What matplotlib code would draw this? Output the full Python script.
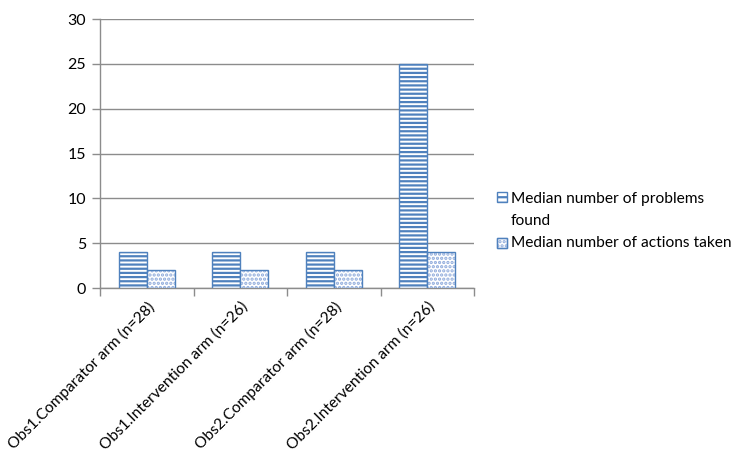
import matplotlib
matplotlib.use("Agg")
import matplotlib.pyplot as plt
import numpy as np
from matplotlib.patches import Rectangle

categories = ["Obs1.Comparator arm (n=28)", "Obs1.Intervention arm (n=26)",
              "Obs2.Comparator arm (n=28)", "Obs2.Intervention arm (n=26)"]
problems = [4, 4, 4, 25]
actions = [2, 2, 2, 4]
series_names = ["Median number of problems\nfound", "Median number of actions taken"]

plt.rcParams['font.family'] = ['Lato', 'DejaVu Sans']
plt.rcParams['hatch.linewidth'] = 1.6

W, H = 736, 458
fig = plt.figure(figsize=(W / 100, H / 100), dpi=100)
ax = fig.add_axes([0.136, 0.371, 0.508, 0.5875])

blue = "#4F81BD"
light = "#8EAADB"
x = np.arange(len(categories))
w = 0.3

ax.bar(x - w/2, problems, w, color="white", edgecolor=blue, hatch="----", linewidth=1.0, zorder=3)
ax.bar(x + w/2, actions, w, color="white", edgecolor=light, hatch="....", linewidth=0, zorder=3)
ax.bar(x + w/2, actions, w, color="none", edgecolor=blue, linewidth=1.0, zorder=4)

ax.set_xlim(-0.5, len(categories) - 0.5)
ax.set_ylim(0, 30)
ax.set_yticks(range(0, 31, 5))
ax.yaxis.grid(True, color="#8C8C8C", linewidth=1.0, zorder=0)
ax.set_axisbelow(True)

for s in ["top", "right"]:
    ax.spines[s].set_visible(False)
for s in ["left", "bottom"]:
    ax.spines[s].set_color("#8C8C8C")
    ax.spines[s].set_linewidth(1.0)

ax.set_xticks(np.arange(-0.5, len(categories), 1.0), minor=False)
ax.set_xticklabels([])
ax.set_xticks(x, minor=True)
ax.set_xticklabels(categories, minor=True, rotation=45, ha="right", rotation_mode="anchor", fontsize=11.2)
ax.tick_params(axis="x", which="major", length=6, color="#8C8C8C", width=1.0)
ax.tick_params(axis="x", which="minor", length=0, pad=8)
ax.tick_params(axis="y", length=6, color="#8C8C8C", width=1.0, labelsize=11.5, pad=4)

# manual legend (figure pixel coordinates converted to fractions)
def fx(px):
    return px / W

def fy(py):
    return 1 - py / H

hs = 10
fig.patches.append(Rectangle((fx(497), fy(197 + hs / 2)), hs / W, hs / H, transform=fig.transFigure,
                             facecolor="white", edgecolor=blue, hatch="---", linewidth=1.0))
fig.patches.append(Rectangle((fx(497), fy(243 + hs / 2)), hs / W, hs / H, transform=fig.transFigure,
                             facecolor="white", edgecolor=light, hatch="....", linewidth=1.0))
fig.patches.append(Rectangle((fx(497), fy(243 + hs / 2)), hs / W, hs / H, transform=fig.transFigure,
                             facecolor="none", edgecolor=blue, linewidth=1.0))
fig.text(fx(511), fy(192), series_names[0], fontsize=11.2, va="top", ha="left", linespacing=1.7)
fig.text(fx(511), fy(243), series_names[1], fontsize=11.2, va="center", ha="left")

fig.savefig("out.png", dpi=100)
